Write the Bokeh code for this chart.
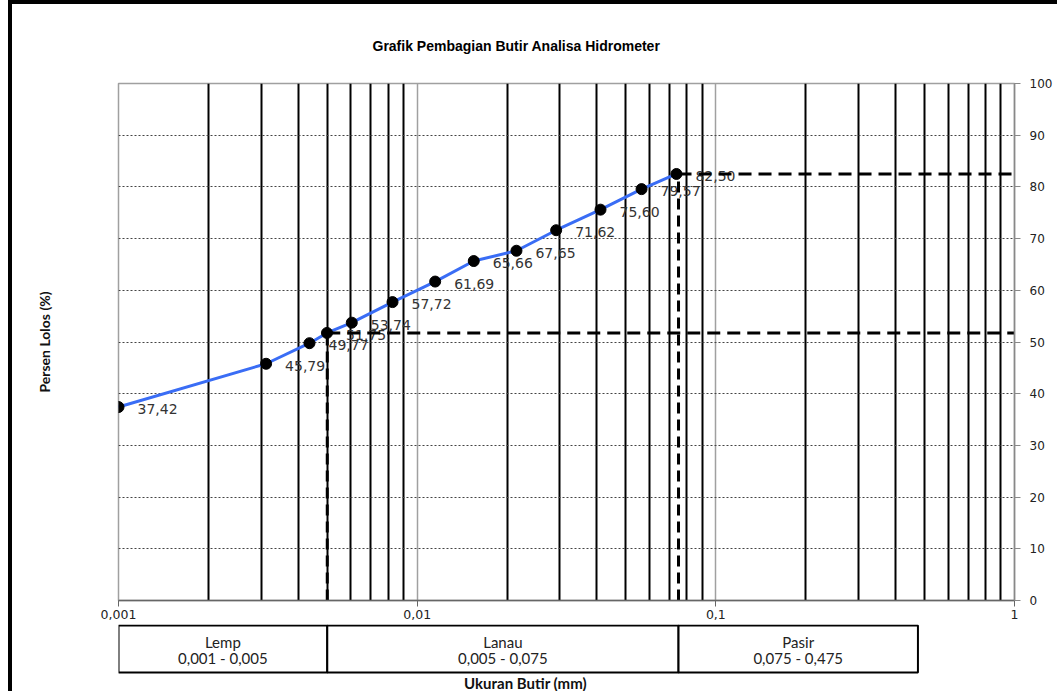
import math
from bokeh.plotting import figure
from bokeh.layouts import column
from bokeh.models import Range1d, FixedTicker, CustomJSTickFormatter, LinearAxis
from bokeh.core.properties import value
from bokeh.embed import file_html
from bokeh.resources import INLINE

# ---------------- data ----------------
title_text = "Grafik Pembagian Butir Analisa Hidrometer"
y_label_text = "Persen Lolos (%)"
x_label_text = "Ukuran Butir (mm)"

grain_mm = [0.001, 0.00312, 0.00436, 0.00499, 0.00604, 0.00827, 0.01149,
            0.01547, 0.0215, 0.0292, 0.0411, 0.0564, 0.0738]
percent_passing = [37.42, 45.79, 49.77, 51.75, 53.74, 57.72, 61.69,
                   65.66, 67.65, 71.62, 75.60, 79.57, 82.50]
point_labels = [f"{v:.2f}".replace(".", ",") for v in percent_passing]

x_major_ticks = [0.001, 0.01, 0.1, 1]
x_minor_ticks = [m * d for d in (0.001, 0.01, 0.1) for m in range(2, 10)]
y_ticks = list(range(0, 101, 10))

ref_sizes = [0.005, 0.075]
ref_percents = [51.75, 82.50]

class_names = ["Lemp", "Lanau", "Pasir"]
class_ranges = ["0,001 - 0,005", "0,005 - 0,075", "0,075 - 0,475"]
class_low = [0.001, 0.005, 0.075]
class_high = [0.005, 0.075, 0.475]

# ---------------- layout constants ----------------
FRAME_W, FRAME_H = 896, 517
DEC = FRAME_W / 3.0
OFF_X, OFF_Y = 12, 4

p = figure(x_axis_type="log", x_range=Range1d(0.001, 1), y_range=Range1d(0, 100),
           frame_width=FRAME_W, frame_height=FRAME_H,
           min_border_left=118 - OFF_X, min_border_right=43,
           min_border_top=83 - OFF_Y, min_border_bottom=24,
           y_axis_location="right", output_backend="svg", toolbar_location=None,
           background_fill_color="white", border_fill_color="white")

right_axis = p.right[0]
bottom_axis = p.below[0]

p.title.text = title_text
p.title.align = "left"
p.title.offset = 372 - 118
p.title.standoff = 60
p.title.text_font = "Liberation Sans"
p.title.text_font_style = "bold"
p.title.text_font_size = "14px"
p.title.text_color = "black"

# y-axis title on the left (axis without ticks)
left_axis = LinearAxis(ticker=FixedTicker(ticks=[]), axis_label=y_label_text,
                       axis_line_color=None, major_tick_line_color=None,
                       minor_tick_line_color=None, major_tick_out=0, major_tick_in=0,
                       minor_tick_out=0, minor_tick_in=0,
                       major_label_standoff=0, axis_label_standoff=66,
                       axis_label_text_font="Lato", axis_label_text_font_style="bold",
                       axis_label_text_font_size="14px", axis_label_text_color="#111111")
p.add_layout(left_axis, "left")

p.outline_line_color = "#a0a0a0"
p.outline_line_width = 1.5

ticker = FixedTicker(ticks=x_major_ticks, minor_ticks=x_minor_ticks)
bottom_axis.ticker = ticker
p.xgrid.ticker = ticker
bottom_axis.formatter = CustomJSTickFormatter(code="return String(tick).replace('.', ',');")
bottom_axis.axis_line_color = "#666666"
bottom_axis.axis_line_width = 1.5
bottom_axis.major_tick_line_color = "#666666"
bottom_axis.major_tick_out = 6
bottom_axis.major_tick_in = 0
bottom_axis.minor_tick_line_color = None
bottom_axis.major_label_standoff = 3
bottom_axis.major_label_text_font = "DejaVu Sans"
bottom_axis.major_label_text_font_size = "12.5px"
bottom_axis.major_label_text_color = "#222222"

p.xgrid.grid_line_color = "#a0a0a0"
p.xgrid.grid_line_width = 1.5
p.xgrid.minor_grid_line_color = "black"
p.xgrid.minor_grid_line_width = 2

right_axis.ticker = FixedTicker(ticks=y_ticks)
right_axis.axis_line_color = "#888888"
right_axis.axis_line_width = 1.5
right_axis.major_tick_line_color = "#888888"
right_axis.major_tick_out = 6
right_axis.major_tick_in = 0
right_axis.minor_tick_line_color = None
right_axis.major_label_standoff = 9
right_axis.major_label_text_font = "DejaVu Sans"
right_axis.major_label_text_font_size = "12px"
right_axis.major_label_text_color = "#222222"

p.ygrid.ticker = right_axis.ticker
p.ygrid.grid_line_color = "#444444"
p.ygrid.grid_line_width = 1
p.ygrid.grid_line_dash = "2 2"

# curve
p.line(grain_mm, percent_passing, line_color="#3a6df5", line_width=3)
p.text(grain_mm, percent_passing, text=point_labels, x_offset=19, y_offset=2,
       text_baseline="middle", text_align="left",
       text_font=value("DejaVu Sans"), text_font_size="14px", text_color="#333333")

# reference dashed lines
p.segment(x0=ref_sizes, y0=ref_percents, x1=[1, 1], y1=ref_percents,
          line_color="black", line_width=3, line_dash="13 7")
p.segment(x0=ref_sizes, y0=[0, 0], x1=ref_sizes, y1=ref_percents,
          line_color="black", line_width=3, line_dash="11 6")

p.scatter(grain_mm, percent_passing, size=11, fill_color="black", line_color="black")

# ---------------- class table ----------------
p2 = figure(x_axis_type="log", x_axis_location=None, y_axis_location=None,
            x_range=Range1d(0.001, 1), y_range=Range1d(0, 67),
            frame_width=FRAME_W, frame_height=67,
            min_border_left=118 - OFF_X, min_border_right=43,
            min_border_top=0, min_border_bottom=0,
            output_backend="svg", toolbar_location=None,
            background_fill_color="white", border_fill_color="white")
p2.outline_line_color = None
p2.grid.visible = False

p2.quad(left=class_low, right=class_high, bottom=19, top=66,
        fill_color="white", line_color="black", line_width=2)
mids = [math.sqrt(a * b) for a, b in zip(class_low, class_high)]
p2.text(mids, [50] * 3, text=class_names, text_align="center", text_baseline="middle",
        text_font=value("Lato"), text_font_size="15px", text_color="#222222")
p2.text(mids, [34] * 3, text=class_ranges, text_align="center", text_baseline="middle",
        text_font=value("Lato"), text_font_size="15px", text_color="#222222")
x_label_pos = 10 ** (-3 + (525 - 118) / DEC)
p2.text([x_label_pos], [9], text=[x_label_text], text_align="center", text_baseline="middle",
        text_font=value("Lato"), text_font_style="bold", text_font_size="15px",
        text_color="#111111")

layout = column(p, p2, styles={"border-left": "4px solid black",
                               "border-top": "4px solid black",
                               "margin-left": "8px"})

open("out.html", "w").write(file_html(layout, INLINE))
